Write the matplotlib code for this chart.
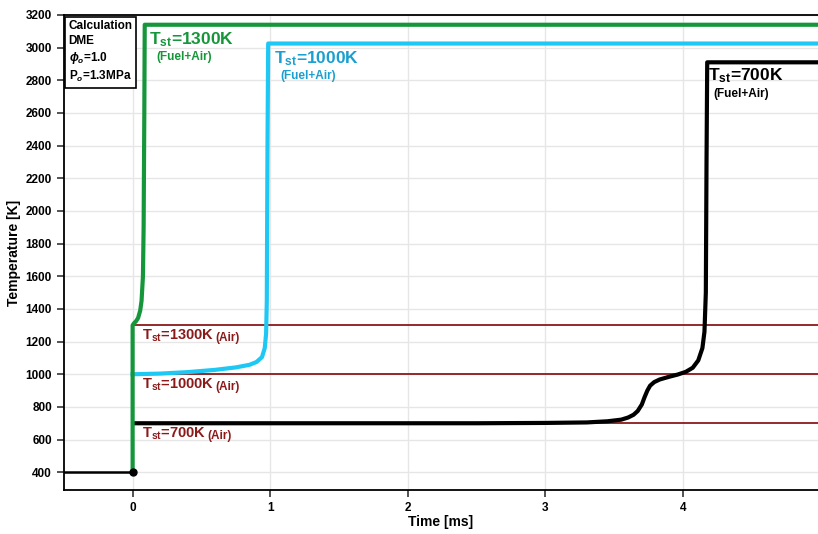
import numpy as np
import matplotlib
matplotlib.use("Agg")
import matplotlib.pyplot as plt

plt.rcParams['font.family'] = ['Liberation Sans', 'DejaVu Sans']
plt.rcParams['font.weight'] = 'bold'
plt.rcParams['mathtext.fontset'] = 'custom'
plt.rcParams['mathtext.rm'] = 'Liberation Sans:bold'
plt.rcParams['mathtext.bf'] = 'Liberation Sans:bold'
plt.rcParams['mathtext.it'] = 'Liberation Sans:bold:italic'

# pre-heat (initial gas, 400 K)
t_pre = [-0.5, 0.0]
T_pre = [400, 400]

# Tst = 1300 K (fuel+air)
t_1300 = [0.0, 0.0, 0.01, 0.025, 0.04, 0.055, 0.065, 0.075, 0.08, 0.085, 0.088, 5.0]
T_1300 = [400, 1300, 1312, 1325, 1345, 1390, 1450, 1600, 1900, 2600, 3140, 3140]

# Tst = 1000 K (fuel+air)
t_1000 = [0.0, 0.2, 0.4, 0.6, 0.75, 0.85, 0.9, 0.94, 0.96, 0.97, 0.975, 0.98, 0.985, 5.0]
T_1000 = [1000, 1004, 1013, 1027, 1042, 1058, 1075, 1105, 1160, 1250, 1450, 2400, 3025, 3025]

# Tst = 700 K (fuel+air)
t_700 = [0.02, 1.0, 2.0, 2.5, 3.0, 3.3, 3.45, 3.55, 3.6, 3.64, 3.67, 3.7, 3.72, 3.74,
         3.76, 3.79, 3.83, 3.9, 3.96, 4.02, 4.07, 4.11, 4.14, 4.155, 4.165, 4.17, 4.175, 5.0]
T_700 = [700, 700, 700, 700, 702, 705, 712, 722, 735, 752, 775, 815, 860, 900,
         930, 952, 968, 985, 998, 1015, 1040, 1085, 1160, 1260, 1500, 2300, 2910, 2910]

# air only levels
T_air = [1300, 1000, 700]
air_labels = ['1300K', '1000K', '700K']
air_label_T = [1210, 910, 610]

fig = plt.figure(figsize=(8.18, 5.34), dpi=100)
ax = fig.add_axes([0.078, 0.082, 0.922, 0.890])

red = '#8b1a1a'
green = '#16963a'
cyan = '#1ec8f5'

for T in T_air:
    ax.plot([0.0, 5.0], [T, T], color=red, lw=1.3, zorder=2)

ax.plot(t_pre, T_pre, color='black', lw=1.8, zorder=3)
ax.plot(t_700, T_700, color='black', lw=3, zorder=4)
ax.plot(t_1000, T_1000, color=cyan, lw=3, zorder=4)
ax.plot(t_1300, T_1300, color=green, lw=3, zorder=5)
ax.plot([0], [400], 'o', color='black', ms=5, zorder=6)

for lab, ty in zip(air_labels, air_label_T):
    txt = ax.text(0.07, ty, r'T$_{\rm st}$=' + lab, color=red, fontsize=10.5,
                  fontweight='bold', va='baseline')
    ax.annotate('(Air)', xy=(1, 0), xycoords=txt, xytext=(1, 0),
                textcoords='offset points', color=red, fontsize=8.5,
                fontweight='bold', va='bottom')

ax.text(0.12, 3020, r'T$_{\rm st}$=1300K', color=green, fontsize=12.5, fontweight='bold')
ax.text(0.17, 2925, '(Fuel+Air)', color=green, fontsize=8.5, fontweight='bold')
ax.text(1.03, 2905, r'T$_{\rm st}$=1000K', color='#1a9fd0', fontsize=12.5, fontweight='bold')
ax.text(1.07, 2810, '(Fuel+Air)', color='#1a9fd0', fontsize=8.5, fontweight='bold')
ax.text(4.18, 2800, r'T$_{\rm st}$=700K', color='black', fontsize=12.5, fontweight='bold')
ax.text(4.22, 2700, '(Fuel+Air)', color='black', fontsize=8.5, fontweight='bold')

ax.text(-0.465, 3170, 'Calculation\nDME\n' + r'$\phi_o$=1.0' + '\n' + r'P$_o$=1.3MPa',
        fontsize=8.5, fontweight='bold', va='top', linespacing=1.3,
        bbox=dict(boxstyle='square,pad=0.3', fc='white', ec='black', lw=1.2))

ax.set_xlim(-0.5, 4.98)
ax.set_ylim(290, 3200)
ax.set_xticks([0, 1, 2, 3, 4])
ax.set_yticks(np.arange(400, 3201, 200))
ax.grid(True, color='#e6e6e6', lw=1)
ax.set_axisbelow(True)
ax.tick_params(direction='out', length=5, width=1.3, color='#444444', labelsize=8.5)
for lab in ax.get_xticklabels() + ax.get_yticklabels():
    lab.set_fontweight('bold')
ax.spines['right'].set_visible(False)
for s in ['left', 'bottom', 'top']:
    ax.spines[s].set_linewidth(1.3)

ax.set_xlabel('Time [ms]', fontsize=10, fontweight='bold', labelpad=1)
ax.set_ylabel('Temperature [K]', fontsize=10, fontweight='bold', labelpad=3)

plt.savefig('out.png', dpi=100)
